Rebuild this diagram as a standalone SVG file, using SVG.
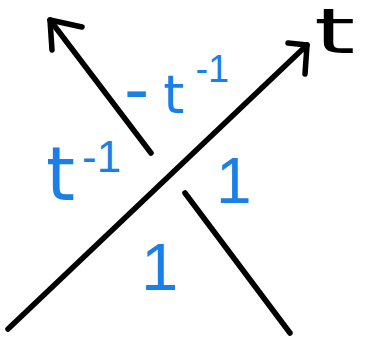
<svg xmlns="http://www.w3.org/2000/svg" width="367" height="337" viewBox="0 0 367 337">
<style>
.s{fill:none;stroke:#000;stroke-width:5.5;stroke-linecap:round;stroke-linejoin:round}
.bl{font-family:"DejaVu Sans",sans-serif;fill:#1a7fe6}
.bk{font-family:"DejaVu Sans",sans-serif;fill:#000}
.ls{font-family:"Liberation Sans",Arial,sans-serif}
</style>
<rect width="367" height="337" fill="#fff"/>
<g id="connectors">
<path class="s" d="M8,329 L307,45"/>
<path class="s" d="M288,43 L307,45 L305,74"/>
<path class="s" d="M151,153 L50,20"/>
<path class="s" d="M82,27 L50,20 L52,50"/>
<path class="s" d="M185,193 L290,333"/>
</g>
<g id="label-t"><text class="bk" font-size="62" transform="translate(314,53) scale(1.7,1)">t</text></g>
<g id="label-mt"><text class="bl" font-size="54" x="124" y="113"><tspan font-size="70">-</tspan><tspan dx="14">t</tspan><tspan class="ls" font-size="38" dx="11" dy="-31">-1</tspan></text></g>
<g id="label-ti"><text class="bl" font-size="74" x="46" y="200">t<tspan class="ls" font-size="44" dx="7" dy="-28">-1</tspan></text></g>
<g id="label-1a"><text class="bl ls" font-size="64" x="216" y="203">1</text></g>
<g id="label-1b"><text class="bl ls" font-size="67" x="141" y="290">1</text></g>
</svg>
